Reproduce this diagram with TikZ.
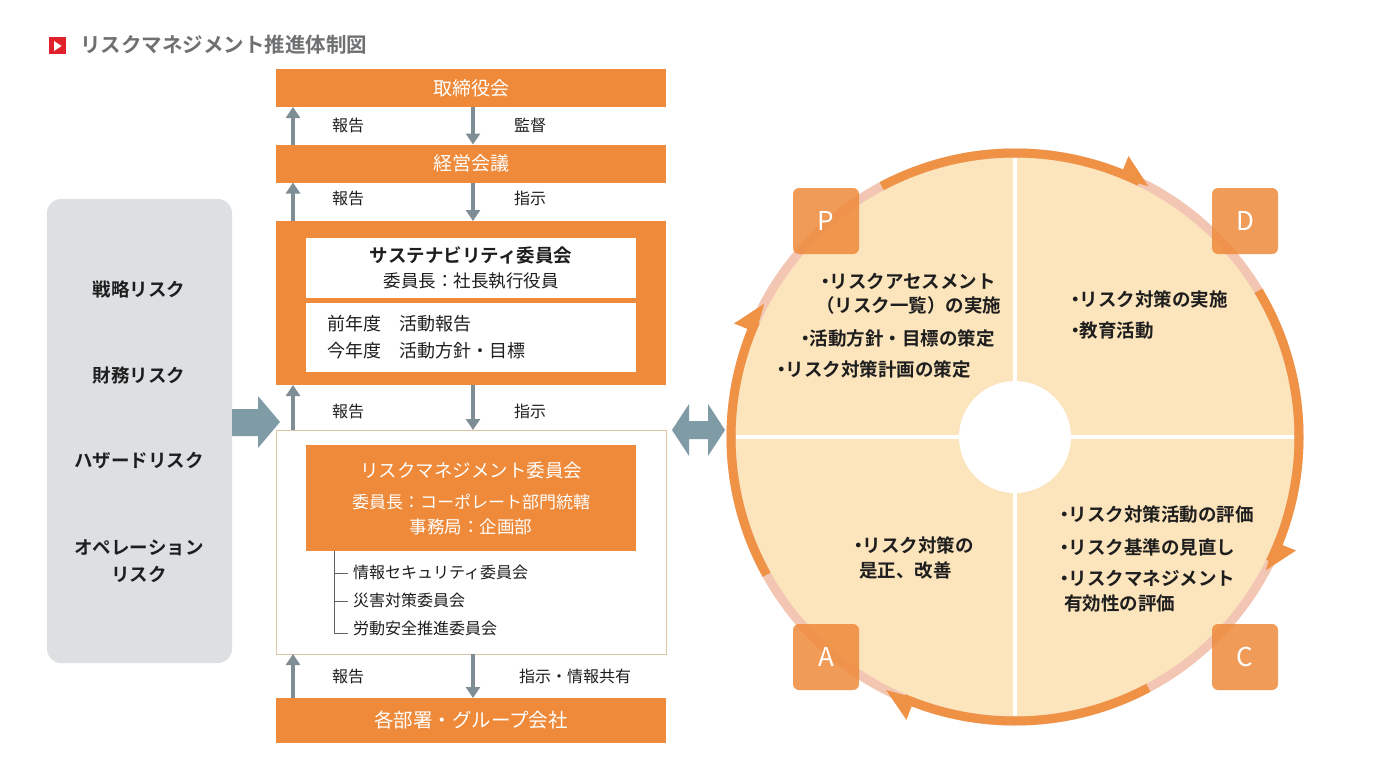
\documentclass[tikz,border=0pt]{standalone}
\usepackage{fontspec}
\setmainfont{Noto Sans CJK JP}[BoldFont={Noto Sans CJK JP Bold}]
\usetikzlibrary{arrows.meta}
\definecolor{org}{HTML}{EE8A3A}
\definecolor{ringc}{HTML}{EF9246}
\definecolor{pinkc}{HTML}{F3C6B4}
\definecolor{cream}{HTML}{FCE4BC}
\definecolor{garr}{HTML}{7F8D95}
\definecolor{barr}{HTML}{7E9BA6}
\definecolor{gbox}{HTML}{DDE0E2}
\definecolor{ttlc}{HTML}{6E7072}
\definecolor{iconred}{HTML}{E0202A}
\definecolor{txt}{HTML}{1E1E1E}
\definecolor{tanline}{HTML}{D9C4A4}
\newcommand\fsz[2]{\fontsize{#1}{#2}\selectfont}
\newcommand\bul{・\hspace{-5pt}}
\begin{document}
\begin{tikzpicture}[x=1pt,y=-1pt,
  every node/.style={inner sep=0pt, outer sep=0pt},
  obox/.style={fill=org, text=white, font=\fsz{19}{23}, minimum width=390pt},
  lbl/.style={font=\fsz{16}{19}, text=txt},
  garrow/.style={draw=garr, line width=4pt, -{Triangle[width=14pt,length=11pt]}},
  rtxt/.style={font=\fsz{18.5}{22}\bfseries, text=txt, anchor=west},
  ctxt/.style={font=\fsz{18.5}{22}\bfseries, text=txt, anchor=west},
  pbox/.style={fill=org, fill opacity=0.85, text opacity=1, text=white, rounded corners=6pt, minimum size=66pt, font=\fsz{26}{30}},
  subc/.style={font=\fsz{16}{19}, text=txt, anchor=west}
]
\useasboundingbox (0,0) rectangle (1376,768);
\fill[white] (0,0) rectangle (1376,768);

% title
\node[fill=iconred, minimum size=17pt] (icon) at (57,46) {};
\fill[white] (54,41) -- (54,51) -- (61.5,46) -- cycle;
\node[font=\fsz{20.5}{24}\bfseries, text=ttlc, anchor=west] (title) at (80,45) {リスクマネジメント推進体制図};

% left gray box
\node[fill=gbox, rounded corners=14pt, minimum width=185pt, minimum height=464pt] (risks) at (139.5,431) {};
\node[rtxt, anchor=center] (r1) at (139,289) {戦略リスク};
\node[rtxt, anchor=center] (r2) at (139,375) {財務リスク};
\node[rtxt, anchor=center] (r3) at (139,461) {ハザードリスク};
\node[rtxt, anchor=center, align=center, font=\fsz{18.5}{26.5}\bfseries] (r4) at (139,561) {オペレーション\\リスク};

% block arrow
\fill[barr] (232,409) -- (258,409) -- (258,396) -- (280,422) -- (258,448) -- (258,436) -- (232,436) -- cycle;

% left column boxes
\node[obox, minimum height=38pt] (board) at (471,88) {取締役会};
\node[obox, minimum height=38pt] (keiei) at (471,163.5) {経営会議};
\node[fill=org, minimum width=390pt, minimum height=164pt] (sus) at (471,303) {};
\node[fill=white, minimum width=330pt, minimum height=60pt, align=center, font=\fsz{18.5}{25}, text=txt] (sustop) at (471,268) {\textbf{サステナビリティ委員会}\\{\fsz{17.5}{22}委員長：社長執行役員}};
\node[fill=white, minimum width=330pt, minimum height=69pt] (susbot) at (471,337) {};
\node[rtxt, font=\fsz{18}{22}] (s1) at (327,324) {前年度　活動報告};
\node[rtxt, font=\fsz{18}{22}] (s2) at (327,351) {今年度　活動方針・目標};

\node[draw=tanline, line width=1pt, fill=white, minimum width=390pt, minimum height=224pt] (rmbox) at (471,542) {};
\node[fill=org, text=white, minimum width=330pt, minimum height=106pt] (rm) at (471,498) {};
\node[text=white, font=\fsz{18.5}{22}] (rm1) at (471,471) {リスクマネジメント委員会};
\node[text=white, font=\fsz{17}{22}] (rm2) at (471,502) {委員長：コーポレート部門統轄};
\node[text=white, font=\fsz{17.5}{22}] (rm3) at (471,527) {事務局：企画部};
\draw[draw=txt!70, line width=0.8pt] (rm.south -| 334,0) -- (334,633) -- (348,633);
\draw[draw=txt!70, line width=0.8pt] (334,573) -- (348,573);
\draw[draw=txt!70, line width=0.8pt] (334,601) -- (348,601);
\node[subc] (c1) at (353,572) {情報セキュリティ委員会};
\node[subc] (c2) at (353,600) {災害対策委員会};
\node[subc] (c3) at (353,628) {労動安全推進委員会};

\node[obox, minimum height=45pt, font=\fsz{19.5}{23}] (depts) at (471,720.5) {各部署・グループ会社};

% gray arrows
\draw[garrow] ([xshift=-178pt]keiei.north) -- ([xshift=-178pt]board.south);
\draw[garrow] ([xshift=2pt]board.south) -- ([xshift=2pt]keiei.north);
\node[lbl] (l1) at (348,125) {報告};
\node[lbl] (l2) at (530,125) {監督};
\draw[garrow] ([xshift=-178pt]sus.north) -- ([xshift=-178pt]keiei.south);
\draw[garrow] ([xshift=2pt]keiei.south) -- ([xshift=2pt]sus.north);
\node[lbl] (l3) at (348,198) {報告};
\node[lbl] (l4) at (530,198) {指示};
\draw[garrow] ([xshift=-178pt]rmbox.north) -- ([xshift=-178pt]sus.south);
\draw[garrow] ([xshift=2pt]sus.south) -- ([xshift=2pt]rmbox.north);
\node[lbl] (l5) at (348,411) {報告};
\node[lbl] (l6) at (530,411) {指示};
\draw[garrow] ([xshift=-178pt]depts.north) -- ([xshift=-178pt]rmbox.south);
\draw[garrow] ([xshift=2pt]rmbox.south) -- ([xshift=2pt]depts.north);
\node[lbl] (l7) at (348,676) {報告};
\node[lbl] (l8) at (575,676) {指示・情報共有};

% double arrow
\fill[barr] (672,430) -- (689,404) -- (689,421) -- (708,421) -- (708,404) -- (725,430) -- (708,456) -- (708,439) -- (689,439) -- (689,456) -- cycle;

% PDCA circle
\begin{scope}[shift={(1015,437)}]
  \fill[cream] (0,0) circle[radius=283];
  \draw[white, line width=4pt] (0,-279) -- (0,279);
  \draw[white, line width=4pt] (-279,0) -- (279,0);
  \fill[white] (0,0) circle[radius=56];
  \draw[pinkc, line width=9pt] (0,0) circle[radius=284];
  % orange arcs (screen angles negated because y points down)
  \draw[ringc, line width=9pt] (-118:284) arc[start angle=-118, end angle=-64, radius=284];
  \draw[ringc, line width=9pt] (-31:284) arc[start angle=-31, end angle=26, radius=284];
  \draw[ringc, line width=9pt] (62:284) arc[start angle=62, end angle=113, radius=284];
  \draw[ringc, line width=9pt] (-209:284) arc[start angle=-209, end angle=-156, radius=284];
  % arrowheads
  \fill[ringc] (-62:284) -- (-68:303) -- (-68:279.5) -- cycle;
  \fill[ringc] (28:284) -- (22:303) -- (22:279.5) -- cycle;
  \fill[ringc] (117:284) -- (111:303) -- (111:279.5) -- cycle;
  \fill[ringc] (-152:284) -- (-158:303) -- (-158:279.5) -- cycle;
\end{scope}

% quadrant texts
\node[ctxt] (p1) at (816,281) {\bul リスクアセスメント};
\node[ctxt] (p2) at (816,305) {（リスク一覧）の実施};
\node[ctxt] (p3) at (796,338) {\bul 活動方針・目標の策定};
\node[ctxt] (p4) at (772,369) {\bul リスク対策計画の策定};
\node[ctxt] (d1) at (1066,299) {\bul リスク対策の実施};
\node[ctxt] (d2) at (1066,331) {\bul 教育活動};
\node[ctxt] (a1) at (849,545) {\bul リスク対策の};
\node[ctxt] (a2) at (859,570) {是正、改善};
\node[ctxt] (k1) at (1055,514) {\bul リスク対策活動の評価};
\node[ctxt] (k2) at (1055,547) {\bul リスク基準の見直し};
\node[ctxt] (k3) at (1055,578) {\bul リスクマネジメント};
\node[ctxt] (k4) at (1064,603) {有効性の評価};

% PDCA boxes
\node[pbox] (P) at (826,221) {P};
\node[pbox] (D) at (1245,221) {D};
\node[pbox] (A) at (826,657) {A};
\node[pbox] (C) at (1245,657) {C};
\end{tikzpicture}
\end{document}
